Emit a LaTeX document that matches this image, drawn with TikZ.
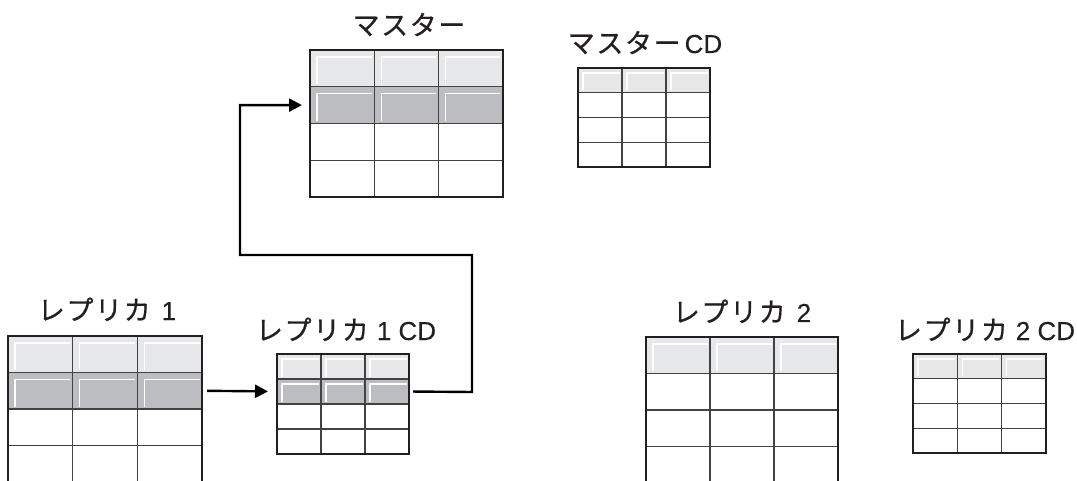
\documentclass[tikz,border=0pt]{standalone}
\usepackage{fontspec}
\newfontfamily\jp[LetterSpace=6,FakeBold=0.6]{Noto Sans CJK JP}
\newfontfamily\lat[FakeBold=0.3]{Liberation Sans}
\usetikzlibrary{arrows.meta}
\definecolor{hdrgray}{HTML}{E6E7E8}
\definecolor{darkgray}{HTML}{BCBDC0}
\definecolor{linec}{HTML}{231F20}
\tikzset{
  tblnode/.style={draw=none, inner sep=0pt, outer sep=0pt},
  hdrfill/.style={fill=hdrgray},
  darkfill/.style={fill=darkgray},
  hilite/.style={draw=white, line width=1.3pt},
  gridline/.style={draw=linec!85, line width=1.2pt},
  border/.style={draw=linec, line width=1.4pt},
  lbl/.style={font=\jp\fontsize{27}{30}\selectfont, inner sep=0pt, text=linec, anchor=base},
  arr/.style={draw=black, line width=2.4pt, -{Triangle[length=13pt,width=13pt]}},
}
\newcommand\latn[1]{{\lat\fontsize{26}{28}\selectfont #1}}
% #1 name, #2 x0, #3 y0, #4 cell width, #5 row height, #6 rows, #7 dark rows (0/1), #8 inset
\newcommand\drawtbl[8]{%
  \pgfmathsetmacro\tw{3*#4}%
  \pgfmathsetmacro\th{#6*#5}%
  \node[tblnode, minimum width=\tw pt, minimum height=\th pt, anchor=north west] (#1) at (#2,#3) {};
  \node[tblnode, minimum width=\tw pt, minimum height=#5 pt, anchor=north west] (#1-h) at (#2,#3) {};
  \node[tblnode, minimum width=\tw pt, minimum height=#5 pt, anchor=north west] (#1-r) at (#2,#3+#5) {};
  \fill[hdrfill] (#2,#3) rectangle ++(\tw,#5);
  \foreach \k in {0,1,2}{%
    \draw[hilite] (#2+\k*#4+#8,#3+#5-2.5) -- (#2+\k*#4+#8,#3+#8) -- (#2+\k*#4+#4-2.5,#3+#8);
  }
  \ifnum#7>0
    \fill[darkfill] (#2,#3+#5) rectangle ++(\tw,#5);
    \foreach \k in {0,1,2}{%
      \draw[hilite] (#2+\k*#4+#8,#3+2*#5-2.5) -- (#2+\k*#4+#8,#3+#5+#8) -- (#2+\k*#4+#4-2.5,#3+#5+#8);
    }
  \fi
  \foreach \k in {1,2}{\draw[gridline] (#2+\k*#4,#3) -- ++(0,\th);}
  \foreach \j in {1,...,\numexpr#6-1\relax}{\draw[gridline] (#2,#3+\j*#5) -- ++(\tw,0);}
  \draw[border] (#2,#3) rectangle ++(\tw,\th);
}
\begin{document}
\begin{tikzpicture}[x=1pt,y=-1pt]
\useasboundingbox (0,0) rectangle (1077,481);
\clip (0,0) rectangle (1077,481);
\fill[white] (0,0) rectangle (1077,481);
% tables
\drawtbl{m}{310}{50}{64.33}{36.75}{4}{1}{7}
\drawtbl{mcd}{578}{68}{44}{24.75}{4}{0}{5}
\drawtbl{r1}{8}{336}{64.67}{36.5}{4}{1}{7}
\drawtbl{r1cd}{277}{354}{44}{25}{4}{1}{5}
\drawtbl{r2}{646}{337}{64}{36.5}{4}{0}{7}
\drawtbl{r2cd}{913}{354}{44.33}{24.75}{4}{0}{5}
% labels
\node[lbl] (lm) at (409,35) {マスター};
\node[lbl] (lmcd) at (645,53) {マスター\hspace{4pt}\latn{CD}};
\node[lbl] (lr1) at (107,320) {レプリカ\hspace{11pt}\latn{1}};
\node[lbl] (lr1cd) at (346,340) {レプリカ\hspace{8pt}\latn{1 CD}};
\node[lbl] (lr2) at (742,322) {レプリカ\hspace{11pt}\latn{2}};
\node[lbl] (lr2cd) at (985,340) {レプリカ\hspace{8pt}\latn{2 CD}};
% connectors
\coordinate (turnA) at (472,392);
\coordinate (turnB) at (472,255);
\coordinate (turnC) at (240,255);
\draw[arr, shorten <=5pt, shorten >=9pt] (r1-r.east) -- (r1cd-r.west);
\draw[arr, shorten <=4pt, shorten >=8pt] (r1cd-r.east) -- (turnA) -- (turnB) -- (turnC) -- (turnC |- m-r.west) -- (m-r.west);
\end{tikzpicture}
\end{document}
